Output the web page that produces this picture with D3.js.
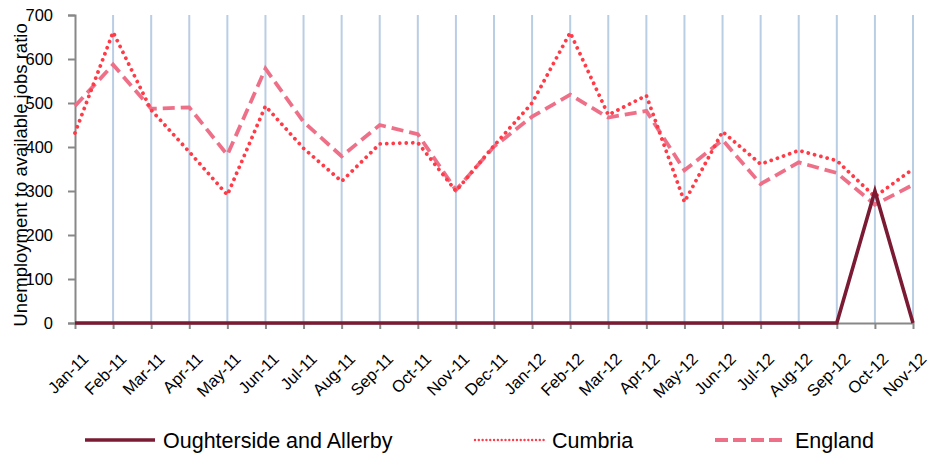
<!DOCTYPE html>
<html><head><meta charset="utf-8">
<script src="https://cdn.jsdelivr.net/npm/d3@7"></script>
<style>body{margin:0;background:#fff}svg{display:block}text{font-family:"Liberation Sans",Arial,sans-serif;fill:#000}</style>
</head><body>
<svg id="c" width="930" height="454"></svg>
<script>
const months = ["Jan-11","Feb-11","Mar-11","Apr-11","May-11","Jun-11","Jul-11","Aug-11","Sep-11","Oct-11","Nov-11","Dec-11","Jan-12","Feb-12","Mar-12","Apr-12","May-12","Jun-12","Jul-12","Aug-12","Sep-12","Oct-12","Nov-12"];
const oughterside = [0,0,0,0,0,0,0,0,0,0,0,0,0,0,0,0,0,0,0,0,0,300,0];
const cumbria = [432,661,484,389,291,493,397,322,407,410,300,403,500,660,473,517,275,435,361,392,369,287,350];
const england = [493,587,487,490,382,578,457,379,450,429,302,401,469,519,467,482,347,416,316,365,341,269,314];
const yTicks = [0,100,200,300,400,500,600,700];
const seriesNames = ["Oughterside and Allerby","Cumbria","England"];

const FONT = "Liberation Sans, Arial, sans-serif";
const svg = d3.select("#c");
const x = d3.scalePoint().domain(months).range([75, 913]);
const y = d3.scaleLinear().domain([0,700]).range([323, 15]);

// vertical gridlines
svg.append("g").selectAll("line").data(months.slice(1)).join("line")
  .attr("x1", d=>x(d)).attr("x2", d=>x(d)).attr("y1", y(0)).attr("y2", y(700))
  .attr("stroke", "#B9CDE5").attr("stroke-width", 2);

// y title
svg.append("text").attr("transform","translate(27,175) rotate(-90)")
  .attr("text-anchor","middle").attr("font-size",18.5).text("Unemployment to available jobs ratio");

// y axis
const ya = svg.append("g").attr("transform","translate(75,0)")
  .call(d3.axisLeft(y).tickValues(yTicks).tickSize(7).tickPadding(15).tickFormat(d3.format("d")));
ya.select(".domain").attr("stroke","#888").attr("stroke-width",2);
ya.selectAll(".tick line").attr("stroke","#888").attr("stroke-width",2);
ya.selectAll("text").attr("font-size",16.5).attr("fill","#000").style("font-family",FONT);

// x axis
const xa = svg.append("g").attr("transform","translate(0,323)")
  .call(d3.axisBottom(x).tickSize(6).tickSizeOuter(0));
xa.select(".domain").attr("stroke","#888").attr("stroke-width",2);
xa.selectAll(".tick line").attr("stroke","#888").attr("stroke-width",2);
xa.selectAll("text").attr("font-size",16.5).attr("fill","#000")
  .style("font-family",FONT)
  .attr("text-anchor","end").attr("dy",null).attr("y",0)
  .attr("transform","translate(14,37) rotate(-45)");

const line = d3.line().x((d,i)=>x(months[i])).y(d=>y(d));
svg.append("path").datum(england).attr("d",line).attr("fill","none")
  .attr("stroke","#EE7088").attr("stroke-width",3.8).attr("stroke-dasharray","12,6");
svg.append("path").datum(cumbria).attr("d",line).attr("fill","none")
  .attr("stroke","#FF3B47").attr("stroke-width",3.8).attr("stroke-dasharray","0.01,6.5").attr("stroke-linecap","round");
svg.append("path").datum(oughterside).attr("d",line).attr("fill","none")
  .attr("stroke","#7A1A33").attr("stroke-width",3.6).attr("stroke-linejoin","miter");

// legend
const leg = [
  {name:seriesNames[0], x1:85, x2:155, tx:163, color:"#7A1A33", w:3.6, dash:null, cap:"butt"},
  {name:seriesNames[1], x1:475, x2:545, tx:552, color:"#FF3B47", w:2.4, dash:"0.01,3.8", cap:"round"},
  {name:seriesNames[2], x1:715, x2:786, tx:795, color:"#EE7088", w:3.8, dash:"13,5", cap:"butt"}
];
const lg = svg.append("g").selectAll("g").data(leg).join("g");
lg.append("line").attr("x1",d=>d.x1).attr("x2",d=>d.x2).attr("y1",440).attr("y2",440)
  .attr("stroke",d=>d.color).attr("stroke-width",d=>d.w).attr("stroke-dasharray",d=>d.dash).attr("stroke-linecap",d=>d.cap);
lg.append("text").attr("x",d=>d.tx).attr("y",447.5).attr("font-size",21.5).text(d=>d.name);
</script>
</body></html>
